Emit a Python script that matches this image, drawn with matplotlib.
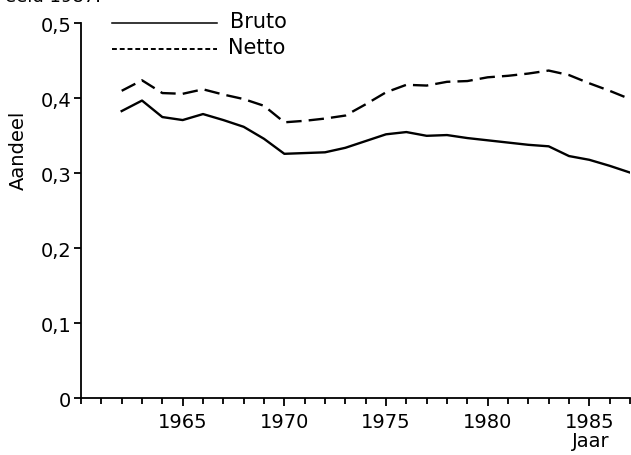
import matplotlib
matplotlib.use("Agg")
import matplotlib.pyplot as plt
from matplotlib.ticker import MultipleLocator, FuncFormatter

plt.rcParams['font.family'] = ['DejaVu Sans']

years = list(range(1962, 1988))
bruto = [0.383, 0.397, 0.375, 0.371, 0.379, 0.371, 0.362, 0.346, 0.326, 0.327,
         0.328, 0.334, 0.343, 0.352, 0.355, 0.350, 0.351, 0.347, 0.344, 0.341,
         0.338, 0.336, 0.323, 0.318, 0.310, 0.301]
netto = [0.410, 0.424, 0.407, 0.406, 0.412, 0.405, 0.399, 0.390, 0.368, 0.370,
         0.373, 0.377, 0.392, 0.408, 0.418, 0.417, 0.422, 0.423, 0.428, 0.430,
         0.433, 0.437, 0.431, 0.420, 0.410, 0.399]
major_years = [1965, 1970, 1975, 1980, 1985]
y_ticks = [0, 0.1, 0.2, 0.3, 0.4, 0.5]

fig = plt.figure(figsize=(6.31, 4.56), dpi=100)
ax = fig.add_axes([0.1284, 0.1243, 0.870, 0.8224])

ax.plot(years, bruto, color='black', lw=1.7, solid_joinstyle='round')
ax.plot(years, netto, color='black', lw=1.7, dashes=(6.5, 3))

ax.set_xlim(1960, 1987)
ax.set_ylim(0, 0.5)
ax.set_xticks(major_years)
ax.xaxis.set_minor_locator(MultipleLocator(1))
ax.set_yticks(y_ticks)
ax.yaxis.set_major_formatter(FuncFormatter(
    lambda v, p: '0' if v == 0 else f'{v:.1f}'.replace('.', ',')))

for s in ['top', 'right']:
    ax.spines[s].set_visible(False)
ax.spines['left'].set_linewidth(1.3)
ax.spines['bottom'].set_linewidth(1.3)
ax.tick_params(axis='both', which='major', labelsize=14, width=1.3, length=6,
               direction='out')
ax.tick_params(axis='x', which='minor', width=1.3, length=4, direction='out')
ax.tick_params(axis='x', which='major', pad=4)
ax.tick_params(axis='y', which='major', length=5, pad=2)

ax.set_ylabel('Aandeel', fontsize=14, labelpad=2)
ax.yaxis.set_label_coords(-0.097, 0.665)
fig.text(0.937, 0.01, 'Jaar', fontsize=14, ha='center', va='bottom')

# legend drawn by hand
ax.plot([0.057, 0.247], [1.0, 1.0], transform=ax.transAxes, color='black',
        lw=1.1, clip_on=False)
ax.plot([0.057, 0.247], [0.932, 0.932], transform=ax.transAxes, color='black',
        lw=1.4, dashes=(2.5, 1.5), clip_on=False)
ax.text(0.272, 1.005, 'Bruto', transform=ax.transAxes, fontsize=15,
        va='center', ha='left')
ax.text(0.268, 0.937, 'Netto', transform=ax.transAxes, fontsize=15,
        va='center', ha='left')

# caption cut off at the top edge in the scan
fig.text(0.008, 1.006, 'eeld 1987.', fontsize=13, ha='left', va='center')

fig.savefig('out.png', dpi=100)
